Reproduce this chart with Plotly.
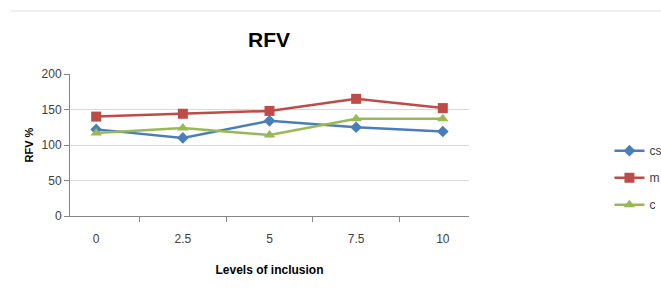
import plotly.graph_objects as go

levels = ["0", "2.5", "5", "7.5", "10"]
cs = [122, 110, 134, 125, 119]
m = [140, 144, 148, 165, 152]
c = [117, 124, 114, 137, 137]
y_ticks = [0, 50, 100, 150, 200]

FONT = "Liberation Sans Narrow, Arial Narrow, Liberation Sans, sans-serif"

fig = go.Figure()
fig.add_trace(go.Scatter(x=levels, y=cs, name="cs", mode="lines+markers", legendgroup="cs",
                         line=dict(color="#4A7EBB", width=2.5),
                         marker=dict(symbol="diamond", size=9, color="#4A7EBB")))
fig.add_trace(go.Scatter(x=levels, y=m, name="m", mode="lines+markers", legendgroup="m",
                         line=dict(color="#BE4B48", width=2.5),
                         marker=dict(symbol="square", size=10, color="#BE4B48")))
fig.add_trace(go.Scatter(x=levels, y=c, name="c", mode="lines+markers", legendgroup="c",
                         line=dict(color="#98B954", width=2.5),
                         marker=dict(symbol="triangle-up", size=10, color="#98B954")))

fig.update_layout(
    width=661, height=293,
    margin=dict(l=70, r=192, t=74, b=77),
    paper_bgcolor="white", plot_bgcolor="white",
    font=dict(family=FONT, size=12, color="#404040"),
    title=dict(text="<b>RFV</b>", x=269/661, xanchor="center", y=1-40/293, yanchor="middle",
               font=dict(size=21, color="#000000", family=FONT)),
    showlegend=True,
    legend=dict(x=0.922, xref="container", xanchor="left", y=0.27, yanchor="middle",
                font=dict(size=12, color="#404040"), tracegroupgap=8,
                itemwidth=30, bgcolor="rgba(0,0,0,0)"),
    xaxis=dict(type="category", tickson="boundaries", ticks="outside", ticklen=5,
               tickcolor="#868686", showline=True, linecolor="#868686", linewidth=1,
               showgrid=False, tickfont=dict(size=12, color="#404040"),
               ticklabelstandoff=12,
               title=dict(text="<b>Levels of inclusion</b>", font=dict(size=12, color="#000000"),
                          standoff=20)),
    yaxis=dict(range=[0, 200], tickvals=y_ticks, ticks="outside", ticklen=5,
               tickcolor="#868686", showline=True, linecolor="#868686", linewidth=1,
               showgrid=True, gridcolor="#D9D9D9", gridwidth=1, zeroline=False,
               tickfont=dict(size=12, color="#404040"),
               title=dict(text="<b>RFV %</b>", font=dict(size=11, color="#000000"), standoff=5)),
)

fig.add_shape(type="line", xref="paper", yref="paper", x0=-0.15, x1=1.5,
              y0=1 + (74 - 11) / 142, y1=1 + (74 - 11) / 142,
              line=dict(color="#E0E0E0", width=1))

fig.write_html("out.html", config={"displayModeBar": False},
               post_script="document.body.style.margin='0px';")
